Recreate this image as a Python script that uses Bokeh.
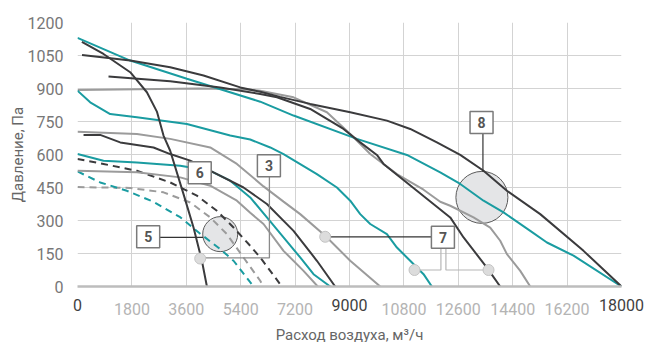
from bokeh.plotting import figure
from bokeh.models import Range1d, LinearAxis
from bokeh.embed import file_html
from bokeh.resources import INLINE
from bokeh.core.properties import value

TEAL = "#1a9ca1"
DARK = "#3b3b3d"
GRAY = "#9b9b9b"
FONT = "Roboto"

# ---- axes / ticks ----
x_ticks = [0, 1800, 3600, 5400, 7200, 9000, 10800, 12600, 14400, 16200, 18000]
x_dark_ticks = [0, 9000, 18000]
y_ticks = [0, 150, 300, 450, 600, 750, 900, 1050, 1200]

# ---- curves (airflow m3/h, pressure Pa) ----
a_x = [0, 1744, 3620, 6046, 7148, 9246, 10900, 12002, 12664, 13435, 14096, 14981, 15533, 16413, 18000]
a_y = [1130, 1027, 944, 840, 777, 671, 598, 519, 466, 390, 337, 253, 200, 140, 0]

b1_x = [150, 1744, 3067, 4170, 5384, 6046, 6700, 7700, 9024, 10238, 11009, 11892, 12664, 13435, 14209, 15311, 16744, 18000]
b1_y = [1052, 1027, 997, 959, 905, 885, 862, 830, 792, 754, 716, 655, 598, 526, 435, 329, 162, 0]

b2_x = [1026, 3067, 4722, 6046, 6600, 7700, 8802, 9355, 9907, 10126, 11230, 12333, 12774, 13546, 13987]
b2_y = [955, 933, 905, 875, 860, 807, 716, 655, 598, 557, 435, 314, 223, 86, 0]

c_x = [0, 2000, 4000, 5500, 6046, 7148, 8253, 9024, 9686, 10569, 11450, 12002, 12333, 13104, 13656, 13987, 14209, 14650, 14981]
c_y = [893, 897, 900, 897, 890, 860, 792, 693, 602, 511, 440, 385, 367, 314, 268, 208, 147, 71, 0]

d_x = [145, 860, 1744, 2296, 2627, 2846, 3067, 3508, 3839, 4116, 4282]
d_y = [1112, 1057, 974, 883, 795, 686, 617, 420, 268, 117, 0]

e_x = [0, 420, 1082, 1966, 3620, 5053, 5715, 6377, 6817, 7921, 8584, 9024, 9355, 9686, 10238, 10569, 11009, 11450, 11726]
e_y = [890, 837, 784, 769, 739, 686, 668, 632, 602, 511, 450, 390, 329, 284, 238, 177, 117, 56, 0]

f_x = [0, 1966, 3067, 4391, 5274, 6155, 6817, 7369, 8196, 9024, 10017]
f_y = [703, 693, 671, 632, 557, 455, 386, 329, 231, 117, 0]

g_x = [200, 751, 1413, 2515, 3067, 3729, 4500, 5493, 6267, 7148, 7921, 8527]
g_y = [689, 689, 655, 632, 602, 572, 519, 450, 375, 253, 117, 0]

h_x = [0, 860, 1966, 3398, 4391, 5053, 5715, 6267, 6817, 7369, 7810, 8362]
h_y = [602, 572, 564, 549, 526, 481, 405, 314, 223, 132, 56, 0]

i_x = [0, 1966, 3398, 4391, 5274, 5715, 6155, 6817, 7479, 7950]
i_y = [526, 519, 496, 458, 390, 335, 284, 162, 71, 0]

j_x = [0, 860, 1966, 3067, 3950, 4612, 5163, 5715, 6046, 6377, 6763]
j_y = [580, 557, 526, 473, 413, 344, 268, 185, 132, 71, 0]

k_x = [0, 1744, 2846, 3729, 4391, 4943, 5493, 6046, 6150]
k_y = [452, 448, 428, 382, 314, 238, 132, 26, 0]

l_x = [0, 751, 1634, 2515, 3398, 4060, 4722, 5163, 5824]
l_y = [523, 473, 435, 385, 315, 240, 170, 117, 0]

# ---- annotation anchors ----
box_labels = ["6", "3", "5", "8", "7"]
box_x = [4044, 6333, 2339, 13369, 12091]
box_y = [517, 549, 226, 746, 224]

big_x = [4722, 13381]
big_y = [238, 405]
dot_x = [4060, 8196, 11151, 13600]
dot_y = [127, 226, 75, 75]

p = figure(frame_width=544, frame_height=264,
           x_range=Range1d(0, 18000), y_range=Range1d(0, 1200),
           output_backend="svg", toolbar_location=None,
           min_border_left=77, min_border_right=40,
           min_border_top=22, min_border_bottom=40)
p.outline_line_color = None
p.background_fill_color = "white"
p.border_fill_color = "white"

p.xgrid.ticker = x_ticks
p.ygrid.ticker = y_ticks
for g in (p.xgrid, p.ygrid):
    g.grid_line_color = "#d3d3d3"
    g.grid_line_width = 1

# x axis: light labels (nearest the frame)
xa = p.xaxis[0]
xa.ticker = x_ticks
xa.major_label_overrides = {v: "" for v in x_dark_ticks}
xa.axis_line_color = "#bdbdbd"
xa.axis_line_width = 2.5
xa.major_tick_line_color = None
xa.minor_tick_line_color = None
xa.major_tick_out = 0
xa.major_tick_in = 0
xa.major_label_text_font = FONT
xa.major_label_text_font_size = "16px"
xa.major_label_text_color = "#b4b4b4"
xa.major_label_standoff = 16

# second x axis: dark labels, pulled up into the same row, carries the title
xa2 = LinearAxis(ticker=x_ticks,
                 major_label_overrides={v: "" for v in x_ticks if v not in x_dark_ticks})
xa2.axis_line_color = None
xa2.major_tick_line_color = None
xa2.minor_tick_line_color = None
xa2.major_tick_out = 0
xa2.major_tick_in = 0
xa2.major_label_text_font = FONT
xa2.major_label_text_font_size = "16px"
xa2.major_label_text_color = "#3f3f3f"
xa2.major_label_standoff = -19
xa2.axis_label = "Расход воздуха, м³/ч"
xa2.axis_label_text_font = FONT
xa2.axis_label_text_font_size = "15px"
xa2.axis_label_text_font_style = "normal"
xa2.axis_label_text_color = "#666666"
xa2.axis_label_standoff = 12
p.add_layout(xa2, "below")

ya = p.yaxis[0]
ya.ticker = y_ticks
ya.axis_line_color = None
ya.major_tick_line_color = None
ya.minor_tick_line_color = None
ya.major_label_text_font = FONT
ya.major_label_text_font_size = "16px"
ya.major_label_text_color = "#777777"
ya.major_label_standoff = 8
ya.axis_label = "Давление, Па"
ya.axis_label_text_font = FONT
ya.axis_label_text_font_size = "15px"
ya.axis_label_text_font_style = "normal"
ya.axis_label_text_color = "#666666"
ya.axis_label_standoff = -2

# big circles (behind curves)
p.scatter(big_x[:1], big_y[:1], marker="circle", size=35, fill_color="#e4e5e7", line_color="#5a5a5a", line_width=1)
p.scatter(big_x[1:], big_y[1:], marker="circle", size=52, fill_color="#e4e5e7", line_color="#5a5a5a", line_width=1)

# dashed curves
p.line(k_x, k_y, line_color=GRAY, line_width=2, line_dash="7 5")
p.line(l_x, l_y, line_color=TEAL, line_width=2, line_dash="7 5")
p.line(j_x, j_y, line_color=DARK, line_width=2, line_dash="7 5")

# solid curves
for xs, ys, col in [(c_x, c_y, GRAY), (f_x, f_y, GRAY), (i_x, i_y, GRAY),
                    (a_x, a_y, TEAL), (e_x, e_y, TEAL), (h_x, h_y, TEAL),
                    (b1_x, b1_y, DARK), (b2_x, b2_y, DARK), (d_x, d_y, DARK), (g_x, g_y, DARK)]:
    p.line(xs, ys, line_color=col, line_width=2)

# leader lines
px_x = 18000 / 544.0
px_y = 1200 / 264.0
bw, bh = 23, 22
p.line([6350, 6350, dot_x[0]], [box_y[1] - bh / 2 * px_y, 130, 130], line_color="#8a8a8a", line_width=1.3)
p.line([box_x[2] + bw / 2 * px_x, big_x[0] - 17 * px_x], [223, 223], line_color="#333333", line_width=1.2)
p.line([13415, 13415], [box_y[3] - bh / 2 * px_y, big_y[1] + 26 * px_y], line_color="#333333", line_width=1.2)
p.line([box_x[4] - bw / 2 * px_x, dot_x[1]], [226, 226], line_color="#333333", line_width=1.2)
p.line([12025, 12025, dot_x[2]], [box_y[4] - bh / 2 * px_y, 75, 75], line_color="#b5b5b5", line_width=1.2)
p.line([12190, 12190, dot_x[3]], [box_y[4] - bh / 2 * px_y, 75, 75], line_color="#b5b5b5", line_width=1.2)

# small dots
p.scatter(dot_x, dot_y, marker="circle", size=11, fill_color="#dcdcdc", line_color="#c4c4c4", line_width=1)

# label boxes
p.rect(box_x, box_y, width=bw, height=bh, width_units="screen", height_units="screen",
       fill_color="white", line_color="#7a7a7a", line_width=1.5)
p.text(box_x, box_y, text=box_labels, text_align="center", text_baseline="middle",
       text_font=value(FONT), text_font_style="bold", text_font_size="14px", text_color="#555555")

open("out.html", "w").write(file_html(p, INLINE))
